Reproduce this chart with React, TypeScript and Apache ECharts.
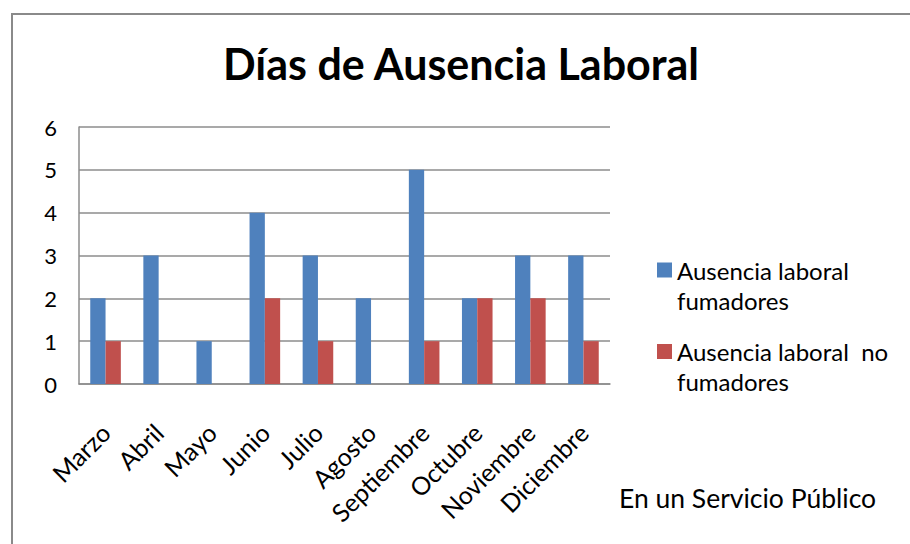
import React, { useEffect, useRef } from "react";
import * as echarts from "echarts";

const months = ["Marzo", "Abril", "Mayo", "Junio", "Julio", "Agosto", "Septiembre", "Octubre", "Noviembre", "Diciembre"];
const smokers = [2, 3, 1, 4, 3, 2, 5, 2, 3, 3];
const nonSmokers = [1, 0, 0, 2, 1, 0, 1, 2, 2, 1];
const seriesNames = ["Ausencia laboral fumadores", "Ausencia laboral  no fumadores"];
const legendLabels = ["Ausencia laboral\nfumadores", "Ausencia laboral  no\nfumadores"];
const yTicks = { min: 0, max: 6, interval: 1 };
const titleText = "Días de Ausencia Laboral";
const noteText = "En un Servicio Público";

const FONT = "Lato, 'Open Sans', sans-serif";

export default function App() {
  const ref = useRef<HTMLDivElement>(null);
  useEffect(() => {
    if (!ref.current) return;
    const chart = echarts.init(ref.current, null, { renderer: "svg" });
    chart.setOption({
      animation: false,
      backgroundColor: "#ffffff",
      textStyle: { fontFamily: FONT },
      title: {
        text: titleText,
        left: 456,
        textAlign: "center",
        top: 37,
        textStyle: { fontFamily: FONT, fontWeight: "bold", fontSize: 43, color: "#000" },
      },
      graphic: [
        {
          type: "rect",
          shape: { x: 12, y: 14, width: 1000, height: 700 },
          style: { fill: "none", stroke: "#8a8a8a", lineWidth: 2 },
          silent: true,
          z: -1,
        },
        {
          type: "text",
          left: 619,
          top: 484,
          style: { text: noteText, fontFamily: FONT, fontSize: 26.5, fill: "#000" },
        },
      ],
      legend: {
        orient: "vertical",
        left: 652,
        top: 220,
        itemWidth: 15,
        itemHeight: 15,
        itemGap: -8.5,
        icon: "rect",
        data: seriesNames,
        formatter: (name: string) => " \n" + legendLabels[seriesNames.indexOf(name)],
        textStyle: {
          fontFamily: FONT,
          fontSize: 24,
          color: "#000",
          lineHeight: 30,
        },
      },
      grid: { left: 79, right: 300, top: 127, bottom: 160, containLabel: false },
      xAxis: {
        type: "category",
        data: months,
        axisLine: { show: true, lineStyle: { color: "#8c8c8c", width: 1.5 } },
        axisTick: { show: false },
        axisLabel: { rotate: 45, fontFamily: FONT, fontSize: 25, color: "#000", margin: 44, interval: 0 },
      },
      yAxis: {
        type: "value",
        min: yTicks.min,
        max: yTicks.max,
        interval: yTicks.interval,
        axisLine: { show: true, lineStyle: { color: "#8c8c8c", width: 1.5 } },
        axisTick: { show: false },
        axisLabel: { fontFamily: FONT, fontSize: 22, color: "#000", margin: 22 },
        splitLine: { lineStyle: { color: "#8c8c8c", width: 1.5 } },
      },
      series: [
        {
          name: seriesNames[0],
          type: "bar",
          data: smokers,
          barWidth: 15.3,
          barGap: "0%",
          itemStyle: { color: "#4F81BD" },
        },
        {
          name: seriesNames[1],
          type: "bar",
          data: nonSmokers,
          barWidth: 15.3,
          barGap: "0%",
          itemStyle: { color: "#C0504D" },
        },
      ],
    });
    return () => chart.dispose();
  }, []);
  return <div ref={ref} style={{ width: 910, height: 544, position: "absolute", left: 0, top: 0 }} />;
}
